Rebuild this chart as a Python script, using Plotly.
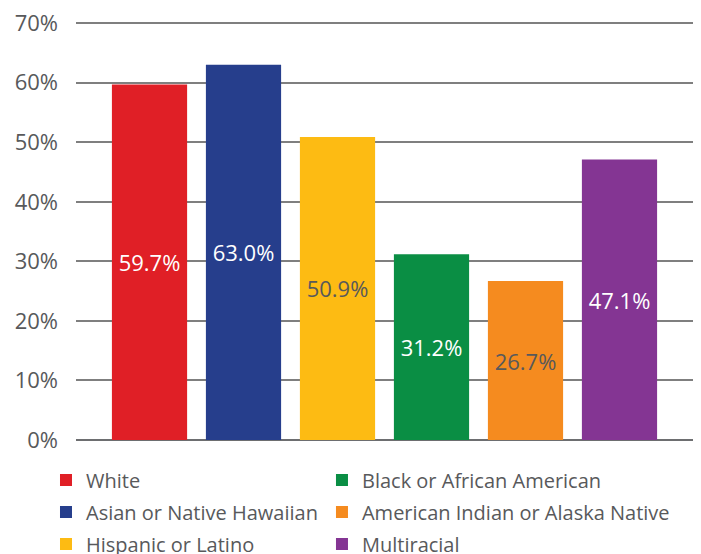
import plotly.graph_objects as go

# data
groups = ['White', 'Asian or Native Hawaiian', 'Hispanic or Latino',
          'Black or African American', 'American Indian or Alaska Native', 'Multiracial']
values = [59.7, 63.0, 50.9, 31.2, 26.7, 47.1]
y_ticks = [0, 10, 20, 30, 40, 50, 60, 70]

# styling
bar_colors = ['#E01F26', '#263E8C', '#FDBB13', '#0A8E44', '#F58B1F', '#843593']
label_colors = ['white', 'white', '#58595B', 'white', '#58595B', 'white']
legend_of = ['legend', 'legend', 'legend', 'legend2', 'legend2', 'legend2']
FONT = 'Open Sans'
GREY = '#58595B'

fig = go.Figure()
for i, g in enumerate(groups):
    fig.add_trace(go.Bar(
        x=[g],
        y=[values[i]],
        name=g,
        width=0.8,
        marker=dict(color=bar_colors[i], line_width=0),
        text=[f"{values[i]:.1f}%"],
        textposition='inside',
        insidetextanchor='middle',
        textangle=0,
        textfont=dict(color=label_colors[i], size=22, family=FONT),
        legend=legend_of[i],
        legendgroup=g,
        hoverinfo='skip',
    ))

legend_style = dict(
    orientation='v',
    xref='container',
    yref='container',
    yanchor='top',
    xanchor='left',
    bgcolor='rgba(0,0,0,0)',
    font=dict(size=20, color=GREY, family=FONT),
    tracegroupgap=3,
    itemclick=False,
)

# the page adds an 8px body margin, so margins are shifted by 8px
fig.update_layout(
    width=701,
    height=554,
    margin=dict(l=68, r=16, t=14, b=122, autoexpand=False),
    plot_bgcolor='white',
    paper_bgcolor='white',
    barmode='overlay',
    font=dict(family=FONT, color=GREY),
    xaxis=dict(
        range=[-0.782, 5.782],
        showticklabels=False,
        showgrid=False,
        zeroline=False,
        fixedrange=True,
    ),
    yaxis=dict(
        range=[0, 70.2],
        tickvals=y_ticks,
        ticktext=[f"{t}%" for t in y_ticks],
        tickfont=dict(size=22, color=GREY, family=FONT),
        ticklabeloverflow='allow',
        showgrid=True,
        gridcolor='#7F7F7F',
        gridwidth=2,
        zeroline=True,
        zerolinecolor='#6D6E70',
        zerolinewidth=2,
        ticklabelstandoff=17,
        fixedrange=True,
    ),
    legend=dict(x=0.0542, y=0.1833, **legend_style),
    legend2=dict(x=0.4479, y=0.1833, **legend_style),
    showlegend=True,
)

fig.write_html("out.html")
